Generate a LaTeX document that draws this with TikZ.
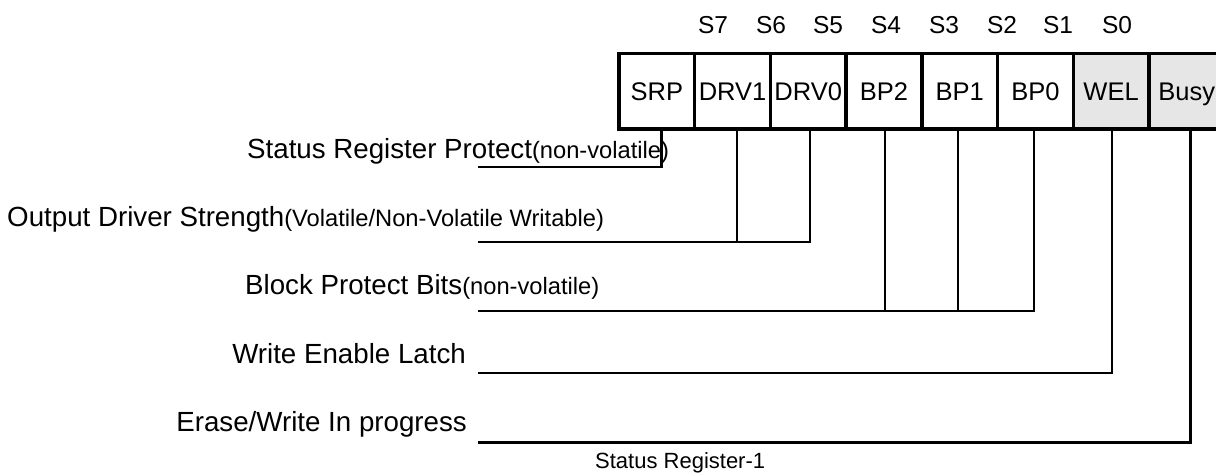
\documentclass[tikz,border=0pt]{standalone}
\usepackage{fontspec}
\setmainfont{Liberation Sans}
\definecolor{cellgray}{HTML}{E6E6E6}
\begin{document}
\begin{tikzpicture}[x=1pt,y=-1pt,
  cell/.style={draw,line width=3.4pt,minimum width=75.7pt,minimum height=75.7pt,inner sep=0pt,
    text height=18.6pt,text depth=0pt,font=\fontsize{25.5}{28}\selectfont},
  graycell/.style={cell,fill=cellgray},
  bitlabel/.style={anchor=base,inner sep=0pt,font=\fontsize{24.5}{27}\selectfont},
  mainlabel/.style={inner sep=0pt,font=\fontsize{27.7}{30}\selectfont},
  wire/.style={line width=2.8pt,line join=miter,line cap=rect}
]
\useasboundingbox (0,0) rectangle (1216,474);
% register cells
\node[cell] (srp) at (656.85,91.2) {SRP};
\node[cell] (drv1) at (732.55,91.2) {DRV1};
\node[cell] (drv0) at (808.25,91.2) {DRV0};
\node[cell] (bp2) at (883.95,91.2) {BP2};
\node[cell] (bp1) at (959.65,91.2) {BP1};
\node[cell] (bp0) at (1035.35,91.2) {BP0};
\node[graycell] (wel) at (1111.05,91.2) {WEL};
\node[graycell] (busy) at (1186.75,91.2) {Busy};
% bit numbers
\node[bitlabel] (s7) at (713,33) {S7};
\node[bitlabel] (s6) at (771,33) {S6};
\node[bitlabel] (s5) at (828,33) {S5};
\node[bitlabel] (s4) at (886,33) {S4};
\node[bitlabel] (s3) at (944,33) {S3};
\node[bitlabel] (s2) at (1002,33) {S2};
\node[bitlabel] (s1) at (1058,33) {S1};
\node[bitlabel] (s0) at (1117,33) {S0};
% labels
\node[mainlabel,anchor=base west] (tsrp) at (247,158) {Status Register Protect{\fontsize{23.7}{26}\selectfont(non-volatile)}};
\node[mainlabel,anchor=base west] (tdrv) at (7,226.5) {Output Driver Strength{\fontsize{23.7}{26}\selectfont(Volatile/Non-Volatile Writable)}};
\node[mainlabel,anchor=base west] (tbp) at (245,294) {Block Protect Bits{\fontsize{23.7}{26}\selectfont(non-volatile)}};
\node[mainlabel,anchor=base east] (twel) at (466,363) {Write Enable Latch};
\node[mainlabel,anchor=base east] (tbusy) at (467,431.5) {Erase/Write In progress};
\node[inner sep=0pt,anchor=base west,font=\fontsize{22}{24}\selectfont] (title) at (595,468) {Status Register-1};
% line ends
\coordinate (esrp) at (479,167);
\coordinate (edrv) at (479,242);
\coordinate (ebp) at (479,311);
\coordinate (ewel) at (479,373);
\coordinate (ebusy) at (479,442.5);
% connectors
\draw[wire] ([xshift=4.85pt]srp.south) |- (esrp);
\draw[wire] ([xshift=1.75pt]drv0.south) |- (edrv);
\draw[wire] ([xshift=4.45pt]drv1.south) -- ([xshift=4.45pt]drv1.south |- edrv);
\draw[wire] ([xshift=-1.35pt]bp0.south) |- (ebp);
\draw[wire] ([xshift=1.05pt]bp2.south) -- ([xshift=1.05pt]bp2.south |- ebp);
\draw[wire] ([xshift=-1.65pt]bp1.south) -- ([xshift=-1.65pt]bp1.south |- ebp);
\draw[wire] ([xshift=0.95pt]wel.south) |- (ewel);
\draw[wire] ([xshift=3.75pt]busy.south) |- (ebusy);
\end{tikzpicture}
\end{document}
